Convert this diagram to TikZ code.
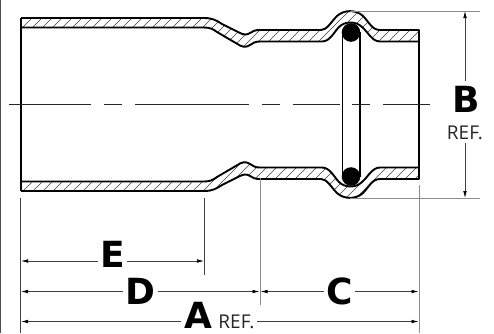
\documentclass[tikz,border=0pt]{standalone}
\usepackage{fontspec}
\setmainfont{Open Sans}
\newfontfamily\letterfont{DejaVu Sans}[BoldFont={DejaVu Sans Bold}]
\usetikzlibrary{arrows.meta}
\definecolor{dimgray}{gray}{0.25}
\definecolor{extgray}{gray}{0.55}
\tikzset{
  x=1pt,y=-1pt,
  wall/.style={line width=1.9pt,black,line join=round},
  hatch/.style={line width=0.45pt,black!75},
  center line/.style={line width=0.7pt,black!85},
  extension/.style={line width=0.8pt,dimgray},
  extension light/.style={line width=1pt,extgray},
  dim half/.style={line width=0.7pt,dimgray,-{Latex[length=7pt,width=3.6pt,black]}},
  big letter/.style={font=\letterfont\bfseries\fontsize{36}{36}\selectfont,inner sep=0pt,black,anchor=base},
  ref text/.style={font=\fontsize{19}{19}\selectfont,inner sep=0pt,black!85,anchor=base},
}
\def\outerT{(21,18) -- (204,18) .. controls (212,18) and (216,20) .. (222,24) -- (240,33) .. controls (244,35) and (247,35) .. (250,33) .. controls (253,31) and (255,30) .. (260,30) -- (321,30) .. controls (327,30) and (331,22) .. (337,16) .. controls (344,9.5) and (356,9.5) .. (363,16) .. controls (369,22) and (372,30) .. (380,30) -- (419,30)}
\def\innerT{(419,41.5) -- (380,41.5) .. controls (372,41.5) and (368,32) .. (362,27) .. controls (356,21) and (345,21) .. (339,27) .. controls (334,32) and (330,41.5) .. (322,41.5) -- (260,41.5) .. controls (255,41.5) and (253,43) .. (250,45) .. controls (247,47) and (244,47.5) .. (240,45.5) -- (217,32) .. controls (213,29) and (210,27.5) .. (204,27.5) -- (21,27.5)}
\begin{document}
\begin{tikzpicture}
\useasboundingbox (0,0) rectangle (494,333);
\fill[white] (0,0) rectangle (494,333);
% frame remnant at the left edge
\draw[line width=1.2pt,black!70] (0.6,0) -- (0.6,333);
% hatching, upper and lower walls
\begin{scope}
  \clip \outerT -- \innerT -- cycle;
  \foreach \i in {0,10,...,460}{\draw[hatch] (\i,50) -- ++(45,-45);}
\end{scope}
\begin{scope}[shift={(0,209)},yscale=-1]
  \clip \outerT -- \innerT -- cycle;
  \foreach \i in {0,10,...,460}{\draw[hatch] (\i,5) -- ++(45,45);}
\end{scope}
% walls
\draw[wall] \outerT -- \innerT;
\begin{scope}[shift={(0,209)},yscale=-1]
  \draw[wall] \outerT -- \innerT;
\end{scope}
\draw[wall] (21,18) -- (21,190.5);
\draw[wall] (419,30) -- (419,178.5);
% seal
\draw[wall] (342.5,32) -- (342.5,177);
\draw[wall] (360,32) -- (360,177);
\fill (351,32.5) circle (9.3);
\fill (351,176.5) circle (9.3);
% center line
\draw[center line] (9,104.5) -- (91,104.5) (104,104.5) -- (122,104.5) (135,104.5) -- (249,104.5) (262,104.5) -- (280,104.5) (293,104.5) -- (340,104.5) (352,104.5) -- (370,104.5) (383,104.5) -- (430,104.5);
% extension lines
\draw[extension light] (350,11) -- (480,11);
\draw[extension light] (350,198) -- (480,198);
\draw[extension] (20.5,198) -- (20.5,333);
\draw[extension] (204.5,198) -- (204.5,275);
\draw[extension light] (260,178) -- (260,305);
\draw[extension light] (419,185) -- (419,333);
% coordinates
\coordinate (Ea) at (21,261); \coordinate (Eb) at (204,261);
\coordinate (Da) at (21,291.5); \coordinate (Db) at (259.5,291.5);
\coordinate (Ca) at (260.5,291.5); \coordinate (Cb) at (418.5,291.5);
\coordinate (Aa) at (21,321.5); \coordinate (Ab) at (418.5,321.5);
\coordinate (Ba) at (465,11); \coordinate (Bb) at (465,198);
% labels
\node[big letter] (E) at (112.5,267.7) {E};
\node[big letter] (D) at (140.5,304) {D};
\node[big letter] (C) at (340,304.5) {C};
\node[big letter] (A) at (198,328) {A};
\node[big letter] (B) at (466,112) {B};
\node[ref text] (Ar) at (236.5,328) {REF.};
\node[ref text] (Br) at (465,139) {REF.};
% dimensions
\draw[dim half] (98,261) -- (Ea);
\draw[dim half] (127,261) -- (Eb);
\draw[dim half] (123,291.5) -- (Da);
\draw[dim half] (158,291.5) -- (Db);
\draw[dim half] (324,291.5) -- (Ca);
\draw[dim half] (355,291.5) -- (Cb);
\draw[dim half] (181,321.5) -- (Aa);
\draw[dim half] (257,321.5) -- (Ab);
\draw[dim half] (465,81) -- (Ba);
\draw[dim half] (465,143) -- (Bb);
\end{tikzpicture}
\end{document}
